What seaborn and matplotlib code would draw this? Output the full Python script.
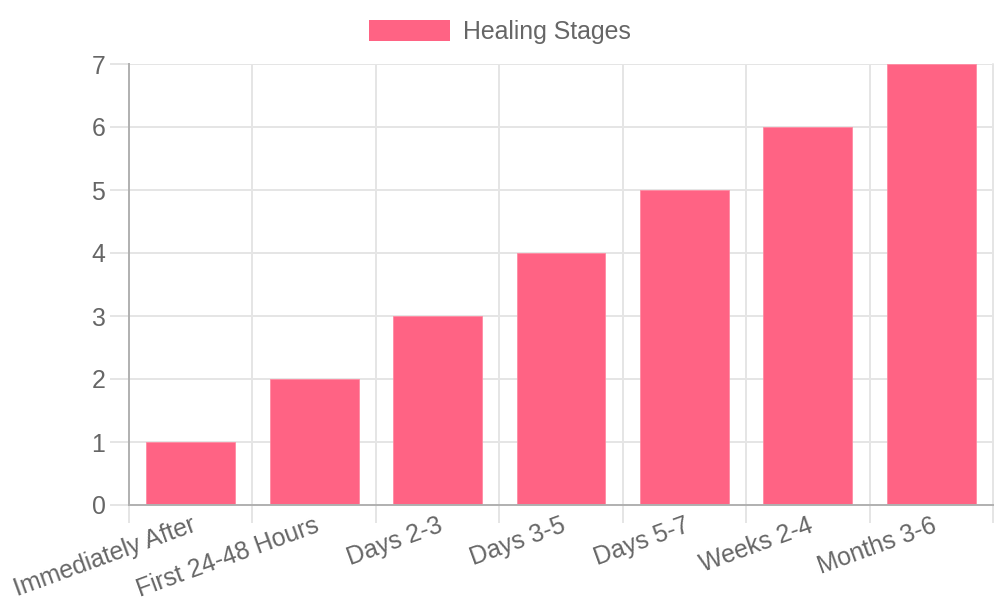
import matplotlib
matplotlib.use("Agg")
import matplotlib.pyplot as plt
import matplotlib.transforms as mtransforms
import seaborn as sns
import pandas as pd
import numpy as np
from matplotlib.patches import Patch

categories = ["Immediately After", "First 24-48 Hours", "Days 2-3", "Days 3-5",
              "Days 5-7", "Weeks 2-4", "Months 3-6"]
values = [1, 2, 3, 4, 5, 6, 7]
series_name = "Healing Stages"

sns.set_theme(style="white")
plt.rcParams['font.family'] = ['Liberation Sans', 'DejaVu Sans']

BAR = "#FF6384"
TXT = "#666666"
GRID = "#e5e5e5"
AXIS = "#b0b0b0"
FS = 17.9

df = pd.DataFrame({"stage": categories, "value": values})

fig = plt.figure(figsize=(10, 6), dpi=100)
ax = fig.add_axes([0.129, 1 - 505 / 600, 0.993 - 0.129, (505 - 64) / 600])

sns.barplot(data=df, x="stage", y="value", color=BAR, saturation=1, width=0.72,
            ax=ax, zorder=3, edgecolor="#ff8aa2", linewidth=0.6)

ax.set_xlim(-0.5, len(categories) - 0.5)
ax.set_ylim(0, 7)
ax.set_yticks(range(0, 8))
ax.set_xlabel("")
ax.set_ylabel("")

# vertical grid at category boundaries
bounds = np.arange(-0.5, len(categories), 1.0)
ax.set_xticks(bounds, minor=True)
ax.set_xticks(range(len(categories)))
ax.set_xticklabels(categories, rotation=20, ha="right", rotation_mode="anchor",
                   fontsize=FS, color=TXT)
offset = mtransforms.ScaledTranslation(-4 / 100, 0, fig.dpi_scale_trans)
for lbl in ax.get_xticklabels():
    lbl.set_transform(lbl.get_transform() + offset)
for b in bounds[1:]:
    ax.axvline(b, color=GRID, lw=1.4, zorder=0)
for yv in range(1, 8):
    ax.axhline(yv, color=GRID, lw=1.4, zorder=0)

ax.tick_params(axis="x", which="both", bottom=True)
ax.tick_params(axis="y", which="both", left=True)
ax.tick_params(axis="x", which="major", length=0, pad=6)
ax.tick_params(axis="x", which="minor", length=13, width=1.4, color=GRID)
ax.tick_params(axis="y", length=14, width=1.4, color=GRID, pad=3,
               labelsize=FS, labelcolor=TXT)
for t in ax.get_yticklabels():
    t.set_color(TXT)

for s in ["top", "right"]:
    ax.spines[s].set_visible(False)
ax.spines["left"].set_color(AXIS)
ax.spines["left"].set_linewidth(1.4)
ax.spines["bottom"].set_color(AXIS)
ax.spines["bottom"].set_linewidth(1.4)
ax.spines["left"].set_zorder(4)
ax.spines["bottom"].set_zorder(4)
ax.axvline(len(categories) - 0.5, color=GRID, lw=1.4, zorder=0, clip_on=False)

handle = Patch(facecolor=BAR, edgecolor="none", label=series_name)
fig.legend(handles=[handle], loc="center", bbox_to_anchor=(0.5, 1 - 32 / 600),
           frameon=False, fontsize=FS, handlelength=3.25, handleheight=0.95,
           handletextpad=0.5, labelcolor=TXT)

fig.savefig("out.png", dpi=100, facecolor="white")
